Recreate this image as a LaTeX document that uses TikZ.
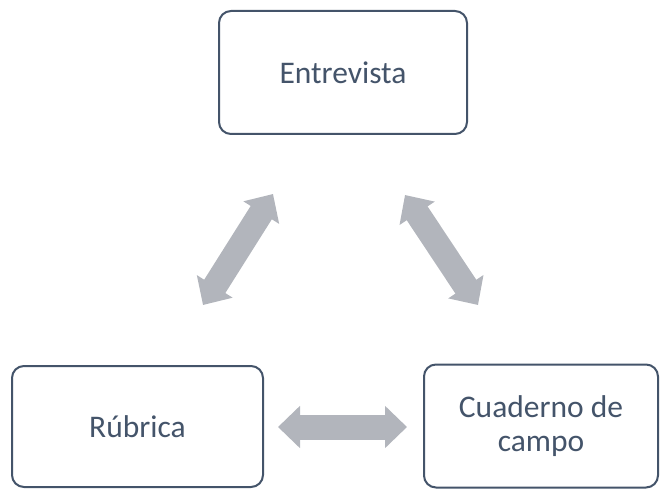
\documentclass[tikz,border=0pt]{standalone}
\usepackage{fontspec}
\setmainfont{Carlito}
\usetikzlibrary{arrows.meta}
\definecolor{boxline}{HTML}{44546A}
\definecolor{arrowgray}{RGB}{178,181,188}
\tikzset{
  stagebox/.style={draw=boxline, line width=2pt, rounded corners=12pt, fill=white,
    text=boxline, font=\fontsize{31.5}{34.5}\selectfont, align=center, inner sep=0pt},
  blockarrow/.style={draw=arrowgray, line width=25pt,
    arrows={Triangle[width=41pt,length=22pt]-Triangle[width=41pt,length=22pt]}},
}
\begin{document}
\begin{tikzpicture}[x=1pt,y=-1pt]
\useasboundingbox (0,0) rectangle (660,489);
\node[stagebox, minimum width=248pt, minimum height=123pt] (ent) at (343,72.5) {Entrevista};
\node[stagebox, minimum width=251pt, minimum height=121pt] (rub) at (137.5,426.5) {Rúbrica};
\node[stagebox, minimum width=234pt, minimum height=123pt] (cua) at (541,426) {Cuaderno de\\campo};
\coordinate (l1) at (273,194);
\coordinate (l2) at (203,305);
\coordinate (r1) at (405,195);
\coordinate (r2) at (478,305);
\coordinate (h1) at (278,427);
\coordinate (h2) at (407,427);
\draw[blockarrow] (l1) -- (l2);
\draw[blockarrow] (r1) -- (r2);
\draw[blockarrow] (h1) -- (h2);
\end{tikzpicture}
\end{document}
